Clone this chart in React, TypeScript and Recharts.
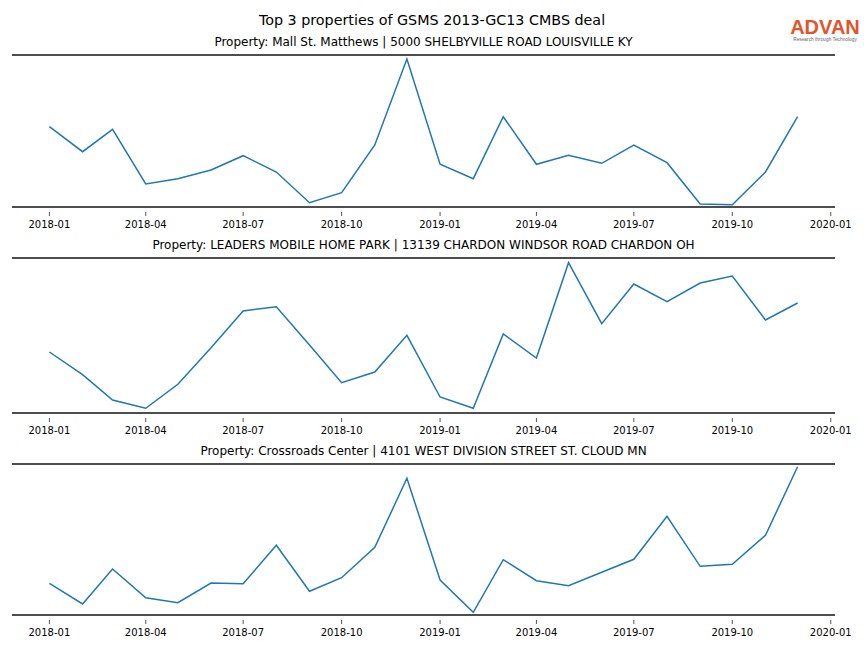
import { LineChart, Line, XAxis, YAxis, ReferenceLine } from "recharts";

// monthly points, Jan 2018 .. Dec 2019
const months = [
	"2018-01", "2018-02", "2018-03", "2018-04", "2018-05", "2018-06",
	"2018-07", "2018-08", "2018-09", "2018-10", "2018-11", "2018-12",
	"2019-01", "2019-02", "2019-03", "2019-04", "2019-05", "2019-06",
	"2019-07", "2019-08", "2019-09", "2019-10", "2019-11", "2019-12",
];

const tickLabels = ["2018-01", "2018-04", "2018-07", "2018-10", "2019-01", "2019-04", "2019-07", "2019-10", "2020-01"];

// relative visit levels (no y scale shown in the source)
const mallStMatthews = [
	80.3, 55.3, 77.7, 23, 28.3, 37, 51.3, 35, 4.3, 14.3, 62, 148,
	42.7, 28.3, 90.3, 42.7, 51.7, 43.7, 62, 44.3, 3, 2.3, 35, 90.3,
];
const leadersMobileHome = [
	61, 38.3, 13, 4.7, 28.7, 65.3, 102, 106.3, 68, 30.3, 41, 77.7,
	16, 4.7, 79, 55, 150.3, 89.3, 129, 111.3, 130, 137, 93, 110,
];
const crossroadsCenter = [
	31.7, 11, 46, 17.3, 12.3, 32, 31.3, 69.7, 23.7, 37.3, 67.7, 136.7,
	35, 2.7, 55.3, 34.3, 29.3, 42.7, 55.7, 98.7, 48.7, 50.7, 79.7, 148.3,
];

const titles = [
	"Property: Mall St. Matthews | 5000 SHELBYVILLE ROAD LOUISVILLE KY",
	"Property: LEADERS MOBILE HOME PARK | 13139 CHARDON WINDSOR ROAD CHARDON OH",
	"Property: Crossroads Center | 4101 WEST DIVISION STREET ST. CLOUD MN",
];

const FONT = "'DejaVu Sans', sans-serif";
const SPINE = "#4d4d4d";
const BLUE = "#1f77b4";

function toTime(m: string) {
	const [y, mo] = m.split("-").map(Number);
	return Date.UTC(y, mo - 1, 1);
}

function fmt(t: number) {
	const d = new Date(t);
	return `${d.getUTCFullYear()}-${String(d.getUTCMonth() + 1).padStart(2, "0")}`;
}

const first = toTime(months[0]);
const last = toTime(months[months.length - 1]);
const pad = (last - first) * 0.05;

// small tick a few px under the spine, label below it
function DateTick(props: any) {
	const { x, y, payload } = props;
	return (
		<g>
			<line x1={x} x2={x} y1={y + 5} y2={y + 9} stroke="#555" strokeWidth={1} />
			<text
				x={x}
				y={y + 17}
				textAnchor="middle"
				dominantBaseline="central"
				fontSize={10}
				fontFamily={FONT}
				fill="#000"
			>
				{fmt(payload.value)}
			</text>
		</g>
	);
}

type PanelProps = {
	title: string;
	values: number[];
	yMax: number;
	plotTop: number;
	plotHeight: number;
};

function Panel({ title, values, yMax, plotTop, plotHeight }: PanelProps) {
	const data = months.map((m, i) => ({ t: toTime(m), v: values[i] }));
	const marginTop = 5;
	return (
		<>
			<div
				style={{
					position: "absolute",
					left: 12,
					width: 823,
					top: plotTop - 20,
					textAlign: "center",
					fontSize: 12,
					fontFamily: FONT,
					color: "#000",
					lineHeight: "15px",
					whiteSpace: "nowrap",
				}}
			>
				{title}
			</div>
			<div style={{ position: "absolute", left: 0, top: plotTop - marginTop }}>
				<LineChart
					width={864}
					height={marginTop + plotHeight + 28}
					data={data}
					margin={{ top: marginTop, right: 29, bottom: 0, left: 12 }}
				>
					<XAxis
						type="number"
						dataKey="t"
						domain={[first - pad, last + pad]}
						allowDataOverflow
						ticks={tickLabels.map(toTime)}
						interval={0}
						height={28}
						tickSize={0}
						tickMargin={0}
						tickLine={false}
						axisLine={{ stroke: SPINE, strokeWidth: 2 }}
						tick={<DateTick />}
					/>
					<YAxis hide domain={[0, yMax]} allowDataOverflow />
					<ReferenceLine y={yMax} stroke={SPINE} strokeWidth={2} />
					<Line
						type="linear"
						dataKey="v"
						stroke={BLUE}
						strokeWidth={1.5}
						dot={false}
						isAnimationActive={false}
					/>
				</LineChart>
			</div>
		</>
	);
}

export default function App() {
	return (
		<div style={{ position: "absolute", left: 0, top: 0, width: 864, height: 648, background: "#fff" }}>
			<div
				style={{
					position: "absolute",
					left: 0,
					width: 864,
					top: 11,
					textAlign: "center",
					fontSize: 14.3,
					fontFamily: FONT,
					lineHeight: "18px",
				}}
			>
				Top 3 properties of GSMS 2013-GC13 CMBS deal
			</div>
			<div style={{ position: "absolute", left: 789, top: 17, width: 72, textAlign: "center", fontFamily: "'Liberation Sans', Arial, sans-serif" }}>
				<div style={{ color: "#e2542a", fontSize: 20, fontWeight: 600, lineHeight: "20px" }}>
					ADVAN
				</div>
				<div style={{ color: "#666", fontSize: 4.8, lineHeight: "6px", whiteSpace: "nowrap" }}>
					Research through Technology
				</div>
			</div>
			<Panel title={titles[0]} values={mallStMatthews} yMax={152} plotTop={55} plotHeight={152} />
			<Panel title={titles[1]} values={leadersMobileHome} yMax={155} plotTop={258} plotHeight={155} />
			<Panel title={titles[2]} values={crossroadsCenter} yMax={151} plotTop={464} plotHeight={151} />
		</div>
	);
}
